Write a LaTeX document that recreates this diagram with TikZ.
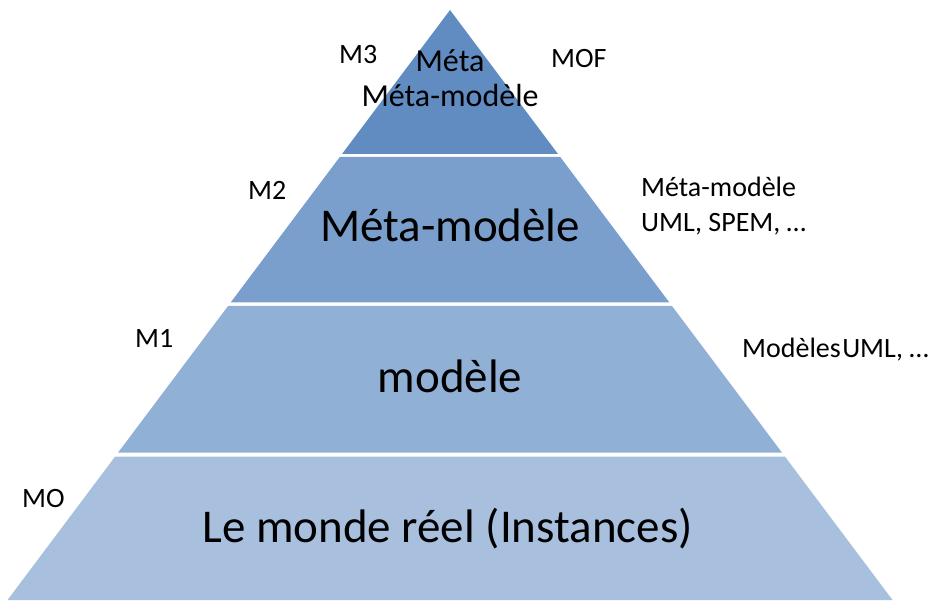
\documentclass[tikz,border=0pt]{standalone}
\usepackage{fontspec}
\setmainfont{Carlito}
\definecolor{tierA}{RGB}{96,140,194}
\definecolor{tierB}{RGB}{122,159,204}
\definecolor{tierC}{RGB}{145,176,214}
\definecolor{tierD}{RGB}{168,192,222}
\begin{document}
\begin{tikzpicture}[x=1pt,y=-1pt,
  bigtext/.style={font=\fontsize{47}{50}\selectfont, anchor=base, inner sep=0pt},
  midtext/.style={font=\fontsize{32}{34}\selectfont, anchor=base, inner sep=0pt},
  sidetext/.style={font=\fontsize{28}{30}\selectfont, anchor=base west, inner sep=0pt}]
\useasboundingbox (0,0) rectangle (937,601);
% pyramid edges: x = 450 -/+ 0.75 (y - 10)
\def\xl#1{\fpeval{450-0.75*(#1-10)}}
\def\xr#1{\fpeval{450+0.75*(#1-10)}}
% four tiers, separated by thin white gaps
\fill[tierA] (450,10) -- (\xr{154},154) -- (\xl{154},154) -- cycle;
\fill[tierB] (\xl{157},157) -- (\xr{157},157) -- (\xr{302.5},302.5) -- (\xl{302.5},302.5) -- cycle;
\fill[tierC] (\xl{306},306) -- (\xr{306},306) -- (\xr{452.5},452.5) -- (\xl{452.5},452.5) -- cycle;
\fill[tierD] (\xl{456.5},456.5) -- (\xr{456.5},456.5) -- (\xr{600},600) -- (\xl{600},600) -- cycle;
% tier captions
\node[midtext] (m3a) at (450,72) {Méta};
\node[midtext] (m3b) at (450,107) {Méta-modèle};
\node[bigtext] (m2t) at (450,242) {Méta-modèle};
\node[bigtext] (m1t) at (450,392) {modèle};
\node[bigtext] (m0t) at (447.5,542) {Le monde réel (Instances)};
% level names on the left
\node[sidetext] (l3) at (339,64) {M3};
\node[sidetext] (l2) at (248,200) {M2};
\node[sidetext] (l1) at (135,348) {M1};
\node[sidetext] (l0) at (22,507) {MO};
% examples on the right
\node[sidetext] (r3) at (551,68) {MOF};
\node[sidetext] (r2a) at (641,197) {Méta-modèle};
\node[sidetext] (r2b) at (641,232) {UML, SPEM, …};
\node[sidetext] (r1) at (742,358) {Modèles\hspace{0.05em}UML, …};
\end{tikzpicture}
\end{document}
